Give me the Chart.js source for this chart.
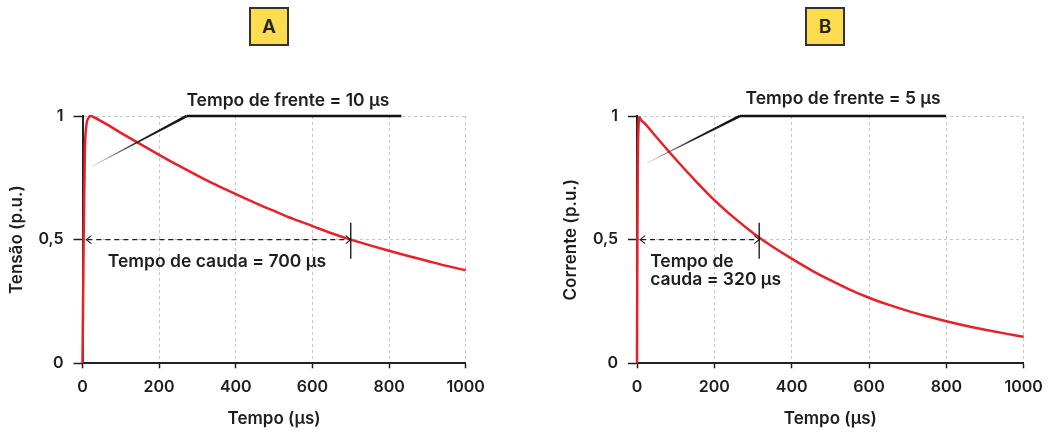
<!DOCTYPE html>
<html>
<head>
<meta charset="utf-8">
<script src="https://cdn.jsdelivr.net/npm/chart.js@4"></script>
<style>
  html, body { margin: 0; padding: 0; background: #fff; }
  body { width: 1055px; height: 432px; position: relative; overflow: hidden; font-family: Inter, sans-serif; }
  .box { position: absolute; top: 7px; width: 40px; height: 39px; box-sizing: border-box;
         background: #fddc4f; border: 2px solid #333; color: #222; font: 600 19px Inter, sans-serif;
         display: flex; align-items: center; justify-content: center; }
  canvas { position: absolute; top: 0; }
</style>
</head>
<body>
<div class="box" style="left:249px">A</div>
<div class="box" style="left:805px">B</div>
<canvas id="chart-a" style="left:0" width="510" height="432"></canvas>
<canvas id="chart-b" style="left:545px" width="510" height="432"></canvas>
<script>
// Forma de onda de impulso: tensão (A) e corrente (B)

const X_TICKS = [0, 200, 400, 600, 800, 1000];
const Y_TICKS = [0, 0.5, 1];

const T_A = [0, 3, 6, 10, 15, 20, 30, 50, 100, 150, 200, 250, 300, 350, 400, 450, 500, 550, 600, 650, 700, 750, 800, 850, 900, 950, 1000];
const V_A = [0, 0.5, 0.85, 0.96, 0.99, 1.0, 0.995, 0.978, 0.932, 0.887, 0.843, 0.80, 0.759, 0.72, 0.684, 0.649, 0.616, 0.584, 0.555, 0.526, 0.50, 0.477, 0.455, 0.434, 0.414, 0.394, 0.376];

const T_B = [0, 1, 2, 4, 6, 10, 20, 50, 100, 150, 200, 250, 300, 350, 400, 450, 500, 550, 600, 650, 700, 750, 800, 850, 900, 950, 1000];
const I_B = [0, 0.5, 0.8, 0.96, 0.995, 0.985, 0.97, 0.915, 0.825, 0.74, 0.66, 0.59, 0.527, 0.472, 0.423, 0.377, 0.336, 0.298, 0.265, 0.237, 0.212, 0.19, 0.17, 0.152, 0.136, 0.121, 0.107];

// anotações em coordenadas de dados (μs, p.u.)
const FRENTE_A = [[24, 0.796], [272, 1], [832, 1]];
const FRENTE_B = [[26, 0.81], [266, 1], [799, 1]];
const CAUDA_A = [10, 700];
const CAUDA_B = [8, 316];

const FONT = 'Inter, sans-serif';
const INK = '#1e1e1e';
const RED = '#e8202a';

const annot = {
  id: 'annot',
  afterDatasetsDraw(chart, args, o) {
    const { ctx, scales: { x, y } } = chart;
    const px = ([u, v]) => [x.getPixelForValue(u), y.getPixelForValue(v)];
    ctx.save();

    // linha do tempo de frente (cunha fina -> grossa)
    const [p0, p1, p2] = o.frente.map(px);
    const dx = p1[0] - p0[0], dy = p1[1] - p0[1], L = Math.hypot(dx, dy);
    const nx = -dy / L, ny = dx / L, w0 = 0.25, w1 = 1.3;
    ctx.beginPath();
    ctx.moveTo(p0[0] + nx * w0, p0[1] + ny * w0);
    ctx.lineTo(p1[0] + nx * w1, p1[1] + ny * w1);
    ctx.lineTo(p1[0] - nx * w1, p1[1] - ny * w1);
    ctx.lineTo(p0[0] - nx * w0, p0[1] - ny * w0);
    ctx.closePath();
    const g = ctx.createLinearGradient(p0[0], p0[1], p1[0], p1[1]);
    g.addColorStop(0, 'rgba(40,40,40,0.25)');
    g.addColorStop(0.5, '#222');
    g.addColorStop(1, '#111');
    ctx.fillStyle = g;
    ctx.fill();
    ctx.beginPath();
    ctx.moveTo(p1[0], p1[1]);
    ctx.lineTo(p2[0], p2[1]);
    ctx.lineWidth = 2.6;
    ctx.strokeStyle = '#111';
    ctx.stroke();

    ctx.fillStyle = INK;
    ctx.font = '600 17.5px ' + FONT;
    ctx.textAlign = 'center';
    ctx.textBaseline = 'middle';
    const [tx, ty] = px(o.frenteTxt);
    ctx.fillText(o.frenteLabel, tx, ty);

    // tempo de cauda: seta tracejada + marca vertical
    const [a0, yh] = px([o.cauda[0], 0.5]);
    const [a1] = px([o.cauda[1], 0.5]);
    ctx.strokeStyle = INK;
    ctx.lineWidth = 1.3;
    ctx.setLineDash([5, 4]);
    ctx.beginPath();
    ctx.moveTo(a0 + 1, yh);
    ctx.lineTo(a1 - 1, yh);
    ctx.stroke();
    ctx.setLineDash([]);
    ctx.lineWidth = 1.1;
    ctx.beginPath();
    ctx.moveTo(a0 + 5, yh - 4); ctx.lineTo(a0, yh); ctx.lineTo(a0 + 5, yh + 4);
    ctx.moveTo(a1 - 5, yh - 4); ctx.lineTo(a1, yh); ctx.lineTo(a1 - 5, yh + 4);
    ctx.stroke();
    ctx.lineWidth = 1.4;
    ctx.beginPath();
    ctx.moveTo(a1, y.getPixelForValue(0.568));
    ctx.lineTo(a1, y.getPixelForValue(0.423));
    ctx.stroke();

    ctx.textAlign = 'left';
    o.caudaTxt.forEach(([u, v, s]) => {
      const [cx, cy] = px([u, v]);
      ctx.fillText(s, cx, cy);
    });
    ctx.restore();
  }
};

function makeChart(id, xs, ys, yTitle, padRight, yWidth, titlePad, ann) {
  return new Chart(document.getElementById(id), {
    type: 'line',
    data: {
      datasets: [{
        data: xs.map((t, i) => ({ x: t, y: ys[i] })),
        borderColor: RED, borderWidth: 2.5, pointRadius: 0,
        cubicInterpolationMode: 'monotone', fill: false, clip: false,
      }],
    },
    options: {
      responsive: false, animation: false,
      layout: { padding: { top: 116, right: padRight, bottom: 0, left: 0 } },
      plugins: { legend: { display: false }, tooltip: { enabled: false }, annot: ann },
      scales: {
        x: {
          type: 'linear', min: 0, max: 1000,
          afterBuildTicks: s => { s.ticks = X_TICKS.map(v => ({ value: v })); },
          afterFit: s => { s.height = 68.7; },
          ticks: { color: INK, font: { family: FONT, size: 16, weight: '600' }, padding: 9, maxRotation: 0, autoSkip: false,
                   callback: v => String(v) },
          grid: { color: '#c6c6c6', tickColor: INK, tickBorderDash: [], tickLength: 5, tickWidth: 1.5 },
          border: { color: '#222', width: 2, dash: [3, 3] },
          title: { display: true, text: 'Tempo (μs)', color: INK, font: { family: FONT, size: 17, weight: '600' }, padding: { top: 0, bottom: 3 } },
        },
        y: {
          min: 0, max: 1,
          afterBuildTicks: s => { s.ticks = Y_TICKS.map(v => ({ value: v })); },
          afterFit: s => { s.width = yWidth; },
          ticks: { color: INK, font: { family: FONT, size: 16, weight: '600' }, padding: 10,
                   callback: v => String(v).replace('.', ',') },
          grid: { color: '#c6c6c6', tickColor: INK, tickBorderDash: [], tickLength: 9, tickWidth: 1.5 },
          border: { color: '#222', width: 2, dash: [3, 3] },
          title: { display: true, text: yTitle, color: INK, font: { family: FONT, size: 17, weight: '600' }, padding: { top: titlePad, bottom: 0 } },
        },
      },
    },
    plugins: [annot],
  });
}

makeChart('chart-a', T_A, V_A, 'Tensão (p.u.)', 44.3, 82.5, 7, {
  frente: FRENTE_A, frenteTxt: [536, 1.063], frenteLabel: 'Tempo de frente = 10 μs',
  cauda: CAUDA_A, caudaTxt: [[66, 0.41, 'Tempo de cauda = 700 μs']],
});

makeChart('chart-b', T_B, I_B, 'Corrente (p.u.)', 31.3, 92, 16, {
  frente: FRENTE_B, frenteTxt: [533, 1.068], frenteLabel: 'Tempo de frente = 5 μs',
  cauda: CAUDA_B, caudaTxt: [[34, 0.41, 'Tempo de'], [34, 0.336, 'cauda = 320 μs']],
});
</script>
</body>
</html>
